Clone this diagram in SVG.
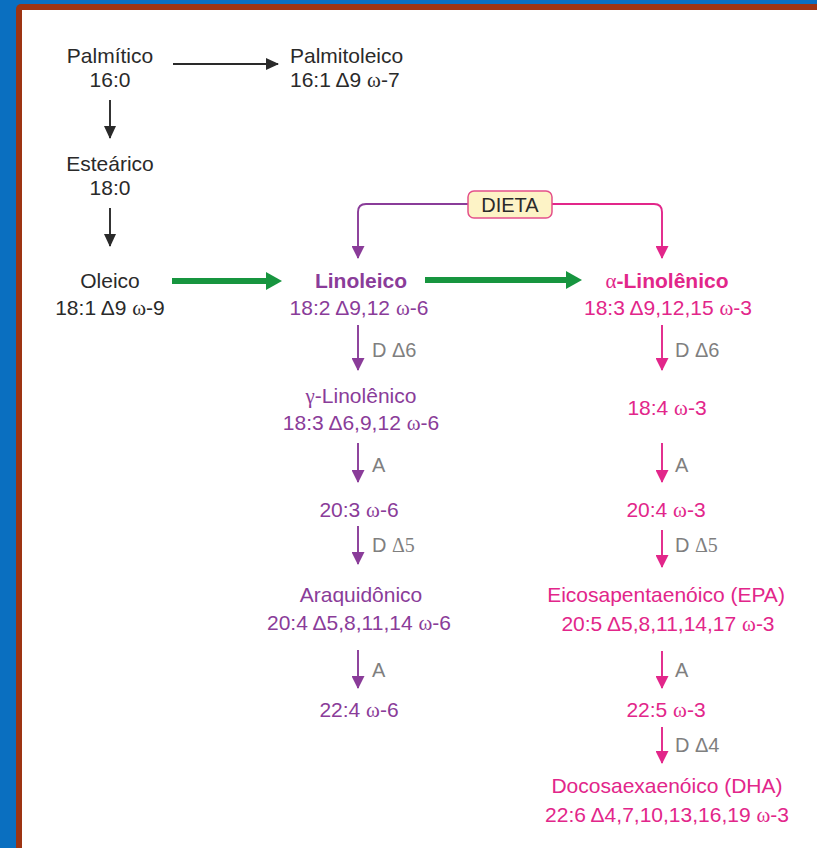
<svg xmlns="http://www.w3.org/2000/svg" width="817" height="848" viewBox="0 0 817 848">
<defs>
<style>
text{font-family:"Liberation Sans",Arial,sans-serif;font-size:21px;}
.c{text-anchor:middle;}
.k{fill:#2a2a2a;}
.p{fill:#8a3c99;}
.m{fill:#e2268a;}
.g{fill:#7f7f7f;font-size:20px;}
.b{font-weight:bold;}
.s{font-family:"Liberation Serif","DejaVu Serif",serif;}
.ln{fill:none;stroke-width:1.9;}
</style>
<marker id="ak" markerUnits="userSpaceOnUse" markerWidth="13" markerHeight="12" refX="12" refY="6" orient="auto"><path d="M0,0 L13,6 L0,12 z" fill="#2a2a2a"/></marker>
<marker id="ap" markerUnits="userSpaceOnUse" markerWidth="13" markerHeight="13" refX="12" refY="6.5" orient="auto"><path d="M0,0 L13,6.5 L0,13 z" fill="#8a3c99"/></marker>
<marker id="am" markerUnits="userSpaceOnUse" markerWidth="13" markerHeight="13" refX="12" refY="6.5" orient="auto"><path d="M0,0 L13,6.5 L0,13 z" fill="#e2268a"/></marker>
<marker id="ag" markerUnits="userSpaceOnUse" markerWidth="16" markerHeight="18" refX="3" refY="9" orient="auto"><path d="M0,0 L16,9 L0,18 z" fill="#17953f"/></marker>
</defs>
<rect x="0" y="0" width="817" height="848" fill="#0a6fc0"/>
<rect x="16" y="4" width="820" height="860" rx="5" fill="#9d3412"/>
<rect x="22" y="10" width="810" height="850" fill="#ffffff"/>

<g id="connectors">
<line class="ln" x1="173" y1="64" x2="278" y2="64" stroke="#2a2a2a" marker-end="url(#ak)"/>
<line class="ln" x1="110" y1="100" x2="110" y2="138" stroke="#2a2a2a" marker-end="url(#ak)"/>
<line class="ln" x1="110" y1="208" x2="110" y2="246" stroke="#2a2a2a" marker-end="url(#ak)"/>
<line x1="172" y1="281" x2="269" y2="281" stroke="#17953f" stroke-width="6" marker-end="url(#ag)"/>
<line x1="425" y1="280" x2="569" y2="280" stroke="#17953f" stroke-width="6" marker-end="url(#ag)"/>
<path class="ln" d="M468,204 H366 Q358,204 358,212 V258" stroke="#8a3c99" marker-end="url(#ap)"/>
<path class="ln" d="M552,204 H654 Q662,204 662,212 V258" stroke="#e2268a" marker-end="url(#am)"/>
<line class="ln" x1="358" y1="325" x2="358" y2="370" stroke="#8a3c99" marker-end="url(#ap)"/>
<line class="ln" x1="358" y1="443" x2="358" y2="482" stroke="#8a3c99" marker-end="url(#ap)"/>
<line class="ln" x1="358" y1="526" x2="358" y2="564" stroke="#8a3c99" marker-end="url(#ap)"/>
<line class="ln" x1="358" y1="650" x2="358" y2="688" stroke="#8a3c99" marker-end="url(#ap)"/>
<line class="ln" x1="662" y1="325" x2="662" y2="370" stroke="#e2268a" marker-end="url(#am)"/>
<line class="ln" x1="662" y1="443" x2="662" y2="482" stroke="#e2268a" marker-end="url(#am)"/>
<line class="ln" x1="662" y1="530" x2="662" y2="567" stroke="#e2268a" marker-end="url(#am)"/>
<line class="ln" x1="662" y1="651" x2="662" y2="688" stroke="#e2268a" marker-end="url(#am)"/>
<line class="ln" x1="662" y1="727" x2="662" y2="763" stroke="#e2268a" marker-end="url(#am)"/>
<text class="g" x="372" y="357">D Δ6</text>
<text class="g" x="372" y="472">A</text>
<text class="g" x="372" y="552">D <tspan class="s">Δ5</tspan></text>
<text class="g" x="372" y="677">A</text>
<text class="g" x="675" y="357">D Δ6</text>
<text class="g" x="675" y="472">A</text>
<text class="g" x="675" y="552">D <tspan class="s">Δ5</tspan></text>
<text class="g" x="675" y="677">A</text>
<text class="g" x="675" y="752">D Δ4</text>
</g>

<g id="palmitico"><text class="c k" x="110" y="63">Palmítico</text><text class="c k" x="110" y="87">16:0</text></g>
<g id="palmitoleico"><text class="k" x="290" y="63">Palmitoleico</text><text class="k" x="290" y="87">16:1 Δ9 <tspan class="s">ω</tspan>-7</text></g>
<g id="estearico"><text class="c k" x="110" y="171">Esteárico</text><text class="c k" x="110" y="195">18:0</text></g>
<g id="oleico"><text class="c k" x="110" y="288">Oleico</text><text class="c k" x="110" y="315">18:1 Δ9 <tspan class="s">ω</tspan>-9</text></g>
<g id="dieta"><rect x="468" y="191" width="84" height="27" rx="6" fill="#fdf3c6" stroke="#e4508a" stroke-width="1.5"/><text class="c k" x="510" y="212" style="font-size:20px">DIETA</text></g>
<g id="linoleico"><text class="c p b" x="361" y="288">Linoleico</text><text class="c p" x="359" y="315">18:2 Δ9,12 <tspan class="s">ω</tspan>-6</text></g>
<g id="alinolenico"><text class="c m b" x="667" y="288"><tspan class="s" style="font-weight:normal">α</tspan>-Linolênico</text><text class="c m" x="668" y="315">18:3 Δ9,12,15 <tspan class="s">ω</tspan>-3</text></g>
<g id="glinolenico"><text class="c p" x="361" y="403"><tspan class="s">γ</tspan>-Linolênico</text><text class="c p" x="361" y="430">18:3 Δ6,9,12 <tspan class="s">ω</tspan>-6</text></g>
<g id="n183"><text class="c m" x="667" y="415">18:4 <tspan class="s">ω</tspan>-3</text></g>
<g id="n203"><text class="c p" x="359" y="517">20:3 <tspan class="s">ω</tspan>-6</text></g>
<g id="n204w3"><text class="c m" x="666" y="517">20:4 <tspan class="s">ω</tspan>-3</text></g>
<g id="araquidonico"><text class="c p" x="361" y="602">Araquidônico</text><text class="c p" x="359" y="630">20:4 Δ5,8,11,14 <tspan class="s">ω</tspan>-6</text></g>
<g id="epa"><text class="c m" x="666" y="602">Eicosapentaenóico (EPA)</text><text class="c m" x="668" y="631">20:5 Δ5,8,11,14,17 <tspan class="s">ω</tspan>-3</text></g>
<g id="n224"><text class="c p" x="359" y="717">22:4 <tspan class="s">ω</tspan>-6</text></g>
<g id="n225"><text class="c m" x="666" y="717">22:5 <tspan class="s">ω</tspan>-3</text></g>
<g id="dha"><text class="c m" x="667" y="793">Docosaexaenóico (DHA)</text><text class="c m" x="667" y="822">22:6 Δ4,7,10,13,16,19 <tspan class="s">ω</tspan>-3</text></g>
</svg>
